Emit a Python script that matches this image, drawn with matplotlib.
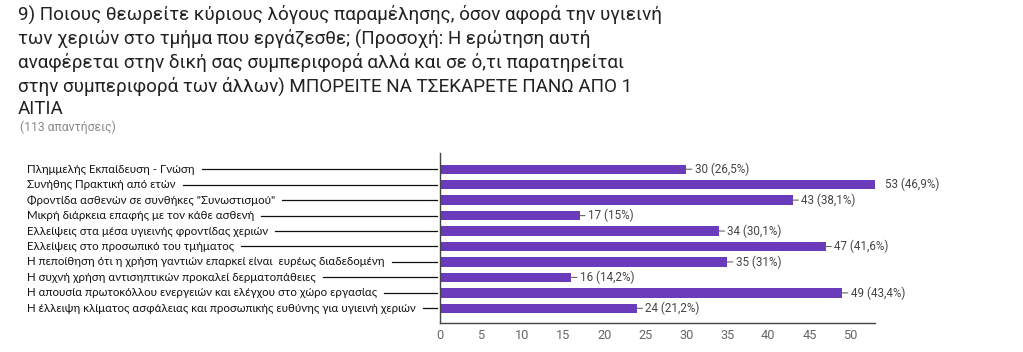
import numpy as np
import matplotlib
matplotlib.use('Agg')
import matplotlib.pyplot as plt

title = ("9) Ποιους θεωρείτε κύριους λόγους παραμέλησης, όσον αφορά την υγιεινή\n"
         "των χεριών στο τμήμα που εργάζεσθε; (Προσοχή: Η ερώτηση αυτή\n"
         "αναφέρεται στην δική σας συμπεριφορά αλλά και σε ό,τι παρατηρείται\n"
         "στην συμπεριφορά των άλλων) ΜΠΟΡΕΙΤΕ ΝΑ ΤΣΕΚΑΡΕΤΕ ΠΑΝΩ ΑΠΟ 1\n"
         "ΑΙΤΙΑ")
subtitle = "(113 απαντήσεις)"

categories = [
    "Πλημμελής Εκπαίδευση - Γνώση",
    "Συνήθης Πρακτική από ετών",
    "Φροντίδα ασθενών σε συνθήκες \"Συνωστισμού\"",
    "Μικρή διάρκεια επαφής με τον κάθε ασθενή",
    "Ελλείψεις στα μέσα υγιεινής φροντίδας χεριών",
    "Ελλείψεις στο προσωπικό του τμήματος",
    "Η πεποίθηση ότι η χρήση γαντιών επαρκεί είναι  ευρέως διαδεδομένη",
    "Η συχνή χρήση αντισηπτικών προκαλεί δερματοπάθειες",
    "Η απουσία πρωτοκόλλου ενεργειών και ελέγχου στο χώρο εργασίας",
    "Η έλλειψη κλίματος ασφάλειας και προσωπικής ευθύνης για υγιεινή χεριών",
]
counts = [30, 53, 43, 17, 34, 47, 35, 16, 49, 24]
percents = ["26,5%", "46,9%", "38,1%", "15%", "30,1%", "41,6%", "31%", "14,2%", "43,4%", "21,2%"]
xticks = [0, 5, 10, 15, 20, 25, 30, 35, 40, 45, 50]

W, H = 1023, 352
fig = plt.figure(figsize=(W / 100, H / 100), dpi=100)
fig.patch.set_facecolor('white')

fig.text(18 / W, 1 - 5 / H, title, ha='left', va='top', fontsize=13.6,
         family=['Roboto', 'DejaVu Sans'], color='#222222', linespacing=1.31)
fig.text(20 / W, 1 - 127 / H, subtitle, ha='left', va='center', fontsize=8.7,
         family=['Roboto', 'DejaVu Sans'], color='#8a8a8a')

ax = fig.add_axes([440 / W, 1 - 323 / H, (875 - 440) / W, (323 - 153) / H])
y = np.arange(len(categories))
ax.barh(y, counts, height=0.6, color='#6a3bbb')
ax.set_xlim(0, 53)
ax.set_ylim(9.95, -1.05)
ax.set_yticks([])
ax.set_xticks(xticks)
ax.tick_params(axis='x', length=0, pad=4, labelsize=9.2, labelcolor='#666666')
for lab in ax.get_xticklabels():
    lab.set_family(['Roboto', 'DejaVu Sans'])
for s in ['top', 'right']:
    ax.spines[s].set_visible(False)
for s in ['left', 'bottom']:
    ax.spines[s].set_color('#444444')
    ax.spines[s].set_linewidth(1.0)

# value labels with short leader line
for yi, c, p in zip(y, counts, percents):
    txt = f"{c} ({p})"
    if c >= ax.get_xlim()[1]:
        ax.annotate(txt, (c, yi), xytext=(7, 0), textcoords='offset points',
                    va='center', ha='left', fontsize=8.4, color='#444444',
                    family=['Roboto', 'DejaVu Sans'], annotation_clip=False)
    else:
        ax.annotate(txt, (c, yi), xytext=(6, 0), textcoords='offset points',
                    va='center', ha='left', fontsize=8.4, color='#444444',
                    family=['Roboto', 'DejaVu Sans'], annotation_clip=False,
                    arrowprops=dict(arrowstyle='-', color='#666666', lw=0.8,
                                    shrinkA=0, shrinkB=0))

# category labels on the left with leader lines to the axis
fig.canvas.draw()
renderer = fig.canvas.get_renderer()
for yi, name in zip(y, categories):
    ypix = ax.transData.transform((0, yi))[1]
    t = fig.text(27 / W, ypix / H, name, ha='left', va='center', fontsize=8.3,
                 family=['Lato', 'DejaVu Sans'], color='#111111')
    bb = t.get_window_extent(renderer)
    x0 = (bb.x1 + 7) / W
    x1 = 437 / W
    fig.add_artist(plt.Line2D([x0, x1], [ypix / H, ypix / H], color='#111111', lw=0.9))

fig.savefig('out.png', dpi=100)
